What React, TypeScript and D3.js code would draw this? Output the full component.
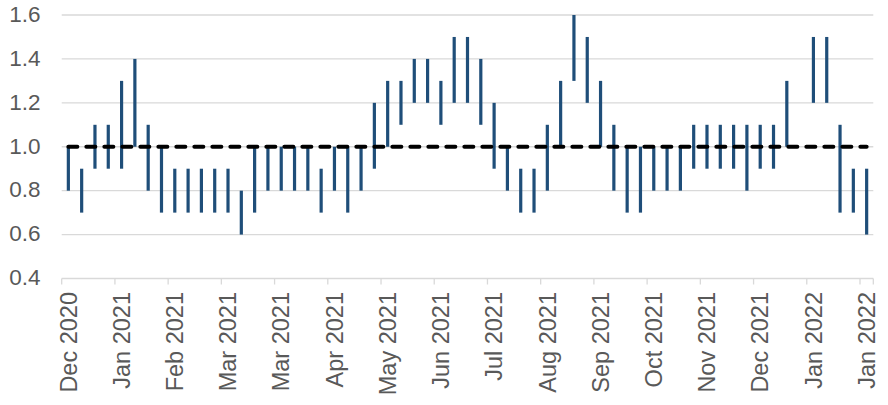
import * as d3 from 'd3';

// weekly ranges; index 55 has no observation
const highs: (number | null)[] = [
  1.0, 0.9, 1.1, 1.1, 1.3, 1.4, 1.1, 1.0, 0.9, 0.9,
  0.9, 0.9, 0.9, 0.8, 1.0, 1.0, 1.0, 1.0, 1.0, 0.9,
  1.0, 1.0, 1.0, 1.2, 1.3, 1.3, 1.4, 1.4, 1.3, 1.5,
  1.5, 1.4, 1.2, 1.0, 0.9, 0.9, 1.1, 1.3, 1.6, 1.5,
  1.3, 1.1, 1.0, 1.0, 1.0, 1.0, 1.0, 1.1, 1.1, 1.1,
  1.1, 1.1, 1.1, 1.1, 1.3, null, 1.5, 1.5, 1.1, 0.9,
  0.9,
];
const lows: (number | null)[] = [
  0.8, 0.7, 0.9, 0.9, 0.9, 1.0, 0.8, 0.7, 0.7, 0.7,
  0.7, 0.7, 0.7, 0.6, 0.7, 0.8, 0.8, 0.8, 0.8, 0.7,
  0.8, 0.7, 0.8, 0.9, 1.0, 1.1, 1.2, 1.2, 1.1, 1.2,
  1.2, 1.1, 0.9, 0.8, 0.7, 0.7, 0.8, 1.0, 1.3, 1.2,
  1.0, 0.8, 0.7, 0.7, 0.8, 0.8, 0.8, 0.9, 0.9, 0.9,
  0.9, 0.8, 0.9, 0.9, 1.0, null, 1.2, 1.2, 0.7, 0.7,
  0.6,
];
const tickLabels = [
  'Dec 2020', 'Jan 2021', 'Feb 2021', 'Mar 2021', 'Mar 2021', 'Apr 2021',
  'May 2021', 'Jun 2021', 'Jul 2021', 'Aug 2021', 'Sep 2021', 'Oct 2021',
  'Nov 2021', 'Dec 2021', 'Jan 2022', 'Jan 2022',
];
const labelEvery = 4;
const reference = 1.0;
const yTicks = [0.4, 0.6, 0.8, 1.0, 1.2, 1.4, 1.6];

const W = 888;
const H = 405;
const FONT = '"Liberation Sans", Arial, sans-serif';
const TEXT = '#595959';
const GRID = '#d9d9d9';
const BAR = '#1f4e79';

export default function App() {
  const idx = d3.range(highs.length);
  const x = d3.scaleBand<number>().domain(idx).range([61.7, 873.3]).padding(0);
  const y = d3.scaleLinear().domain([0.4, 1.6]).range([278.5, 15]);
  const cx = (i: number) => (x(i) ?? 0) + x.bandwidth() / 2;

  const refLine = d3.line<number>()
    .x(i => cx(i))
    .y(() => y(reference));

  const tickIdx = d3.range(0, highs.length, labelEvery);

  return (
    <svg width={W} height={H} style={{ position: 'absolute', left: 0, top: 0, background: '#fff' }}
      fontFamily={FONT}>
      {yTicks.map(t => (
        <g key={t}>
          <line x1={x.range()[0]} x2={x.range()[1]} y1={y(t)} y2={y(t)} stroke={GRID} strokeWidth={1.3} />
          <text x={40.5} y={y(t)} dy="0.3em" textAnchor="end" fontSize={22.5} fill={TEXT}>
            {t.toFixed(1)}
          </text>
        </g>
      ))}
      {tickIdx.concat([highs.length]).map(i => {
        const px = i < highs.length ? (x(i) ?? 0) : x.range()[1];
        return <line key={'t' + i} x1={px} x2={px} y1={y(0.4)} y2={y(0.4) + 6} stroke={GRID} strokeWidth={1.3} />;
      })}
      {idx.map(i => {
        const hi = highs[i];
        const lo = lows[i];
        if (hi == null || lo == null) return null;
        return (
          <line key={'b' + i} x1={cx(i)} x2={cx(i)} y1={y(hi)} y2={y(lo)} stroke={BAR} strokeWidth={3.2} />
        );
      })}
      <path d={refLine([0, highs.length - 1]) ?? ''} fill="none" stroke="#000" strokeWidth={4}
        strokeDasharray="9 9" strokeLinecap="round" />
      {tickIdx.map((i, k) => (
        <text key={'l' + i} transform={`translate(${cx(i)},292) rotate(-90)`} dy="0.35em"
          textAnchor="end" fontSize={23.5} fill={TEXT}>
          {tickLabels[k]}
        </text>
      ))}
    </svg>
  );
}
